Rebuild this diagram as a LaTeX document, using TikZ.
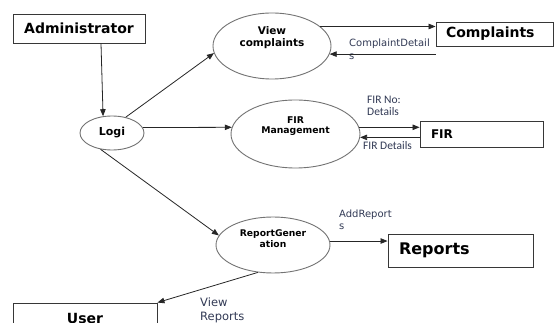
\documentclass[tikz,border=0pt]{standalone}
\usepackage{fontspec}
\newfontfamily\dvs{DejaVu Sans}
\newfontfamily\carl{Carlito}
\usetikzlibrary{arrows.meta,calc,shapes.geometric}
\definecolor{lblc}{RGB}{50,58,85}
\definecolor{ellc}{RGB}{115,115,115}
\definecolor{boxc}{RGB}{55,55,55}
\begin{document}
\begin{tikzpicture}[x=1pt,y=-1pt,
  proc/.style={draw=ellc, line width=0.9pt, ellipse, inner sep=0pt},
  ent/.style={draw=boxc, line width=0.9pt, rectangle, inner sep=0pt},
  ptxt/.style={align=center, inner sep=0pt},
  arr/.style={-{Triangle[length=7pt,width=5.5pt]}, line width=0.8pt, draw=black!85},
  lbl/.style={text=lblc, align=left, inner sep=0pt, anchor=west}]
\useasboundingbox (0,0) rectangle (560,323);
\fill[white] (0,0) rectangle (560,323);
% entities
\node[ent, minimum width=132pt, minimum height=29pt, font=\dvs\bfseries\fontsize{14}{16}\selectfont] (admin) at (79,28.5) {Administrator};
\node[ent, text width=97pt, align=left, inner xsep=10pt, minimum height=24pt, font=\dvs\bfseries\fontsize{14}{16}\selectfont] (comp) at (494.5,34) {Complaints};
\node[ent, text width=101pt, align=left, inner xsep=11pt, minimum height=26pt, font=\dvs\bfseries\fontsize{12}{14}\selectfont] (fir) at (481.5,134) {FIR};
\node[ent, text width=123pt, align=left, inner xsep=11pt, minimum height=33pt, font=\dvs\bfseries\fontsize{16}{18}\selectfont] (reports) at (460.5,250.5) {Reports};
\node[ent, minimum width=144pt, minimum height=30pt, font=\dvs\bfseries\fontsize{14}{16}\selectfont] (user) at (85,318) {User};
% processes
\node[proc, minimum width=64pt, minimum height=34pt, font=\dvs\bfseries\fontsize{11}{13}\selectfont] (logi) at (112,133) {Logi};
\node[proc, minimum width=118pt, minimum height=66pt] (vc) at (272,46) {};
\node[ptxt, font=\dvs\bfseries\fontsize{10.5}{12}\selectfont] (vct) at ([yshift=8pt]vc.center) {View\\complaints};
\node[proc, minimum width=129pt, minimum height=68pt] (fm) at (295.5,134) {};
\node[ptxt, font=\dvs\bfseries\fontsize{9.3}{10.5}\selectfont] (fmt) at ([yshift=8pt]fm.center) {FIR\\Management};
\node[proc, minimum width=114pt, minimum height=56pt] (rg) at (273,245) {};
\node[ptxt, font=\dvs\bfseries\fontsize{9.2}{11}\selectfont] (rgt) at ([yshift=6.5pt]rg.center) {ReportGener\\ation};
% labels
\node[lbl, font=\dvs\fontsize{10}{13}\selectfont] (lcd) at (349,49.5) {ComplaintDetail\\s};
\node[lbl, font=\carl\fontsize{11.5}{12}\selectfont] (lfn) at (367,106) {FIR No:\\Details};
\node[lbl, font=\carl\fontsize{11.5}{13}\selectfont] (lfd) at (363,146) {FIR Details};
\node[lbl, font=\dvs\fontsize{10}{12}\selectfont] (lar) at (339,220) {AddReport\\s};
\node[lbl, font=\dvs\fontsize{11.5}{14}\selectfont] (lvr) at (200,310) {View\\Reports};
% connectors
\draw[arr] ([xshift=22pt]admin.south) -- (logi.118);
\draw[arr] (logi.49) -- (vc.187);
\draw[arr] (logi.10) -- (fm.174);
\draw[arr] (logi.235) -- (rg.170);
\draw[arr] (vc.22) -- (vc.22 -| comp.west);
\draw[arr] (comp.west |- vc.-8) -- (vc.-8);
\draw[arr] (fm.6) -- (fm.6 -| fir.west);
\draw[arr] (fir.west |- fm.-3) -- (fm.-3);
\draw[arr] (rg.4) -- (rg.4 -| reports.west);
\draw[arr] (rg.241) -- (user.north east);
\end{tikzpicture}
\end{document}
